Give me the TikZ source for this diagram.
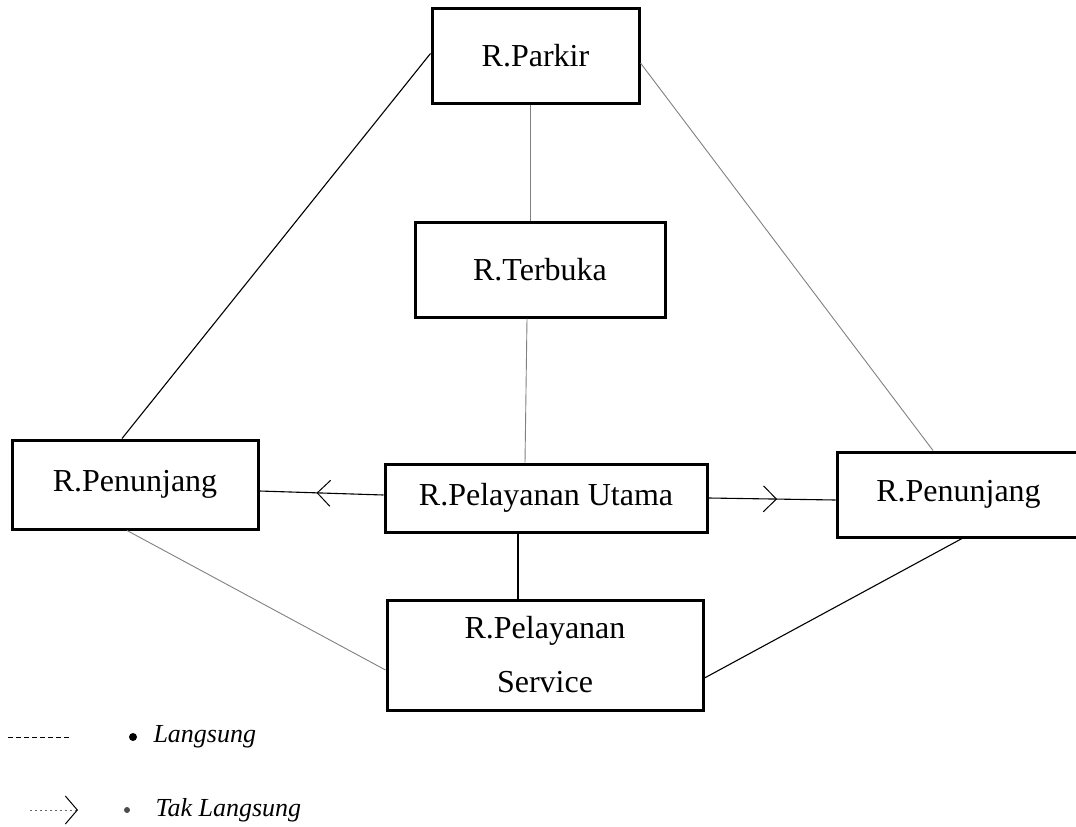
\documentclass[tikz,border=0pt]{standalone}
\usepackage{fontspec}
\setmainfont{Liberation Serif}
\usetikzlibrary{arrows.meta,decorations.markings}

\begin{document}
\begin{tikzpicture}[x=1pt,y=-1pt,
    room/.style={
      rectangle,
      draw,
      line width=3pt,
      inner sep=0pt,
      align=center,
      font=\fontsize{32}{54}\selectfont
    },
    link/.style={line width=1.1pt},
    faint/.style={line width=0.9pt, black!50},
    midarrow/.style={
      postaction={decorate},
      decoration={markings,
        mark=at position #1 with {\arrow{Straight Barb[length=13pt,width=26pt,line width=1pt]}}}
    },
    key/.style={anchor=west, font=\fontsize{26}{30}\selectfont\itshape},
    dot/.style={circle, fill, inner sep=0pt}
  ]
  \useasboundingbox (0,0) rectangle (1076,827);
  \clip (0,0) rectangle (1076,827);

  \node[room,minimum width=207,minimum height=95] (P) at (535.5,55.5) {R.Parkir};
  \node[room,minimum width=250,minimum height=95] (T) at (540,269.5) {R.Terbuka};
  \node[room,minimum width=322,minimum height=68] (U) at (546,498) {R.Pelayanan Utama};
  \node[room,minimum width=246,minimum height=89] (PL) at (135,484.5) {R.Penunjang};
  \node[room,minimum width=243,minimum height=85] (PR) at (958.5,494.5) {R.Penunjang};
  \node[room,minimum width=316,minimum height=110] (S) at (545,655) {R.Pelayanan\\Service};

  % hubungan antar ruang
  \draw[link] ([yshift=2]P.west) -- ([xshift=-13]PL.north);
  \draw[faint] ([yshift=-7.5]P.east) -- ([xshift=-25.5]PR.north);
  \draw[faint] ([xshift=-5.5]P.south) -- ([xshift=-10]T.north);
  \draw[faint] ([xshift=-13]T.south) -- ([xshift=-21]U.north);
  \draw[link] ([xshift=-28]U.south) -- ([xshift=-27]S.north);
  \draw[faint] ([xshift=-8]PL.south) -- ([yshift=-15]S.west);
  \draw[link] ([xshift=3.5]PR.south) -- ([yshift=-23]S.east);
  \draw[link,midarrow=0.54] ([yshift=3]U.west) -- ([yshift=-6.5]PL.east);
  \draw[link,midarrow=0.54] (U.east) -- ([yshift=-5.5]PR.west);

  % keterangan
  \coordinate (L1a) at (8,737);
  \coordinate (L1b) at (70,737);
  \coordinate (L2a) at (30,810);
  \coordinate (L2b) at (78,810);
  \draw[line width=1pt,dash pattern=on 5pt off 3pt] (L1a) -- (L1b);
  \draw[line width=0.9pt,black!60,dash pattern=on 2pt off 3pt,
        -{Straight Barb[length=12pt,width=28pt,line width=1pt,black]}] (L2a) -- (L2b);
  \node[dot,minimum size=8pt] (b1) at (133,737) {};
  \node[dot,minimum size=6pt,black!70] (b2) at (127,810) {};
  \node[key] (k1) at (150,737) {Langsung};
  \node[key] (k2) at (152,810) {Tak Langsung};
\end{tikzpicture}
\end{document}
